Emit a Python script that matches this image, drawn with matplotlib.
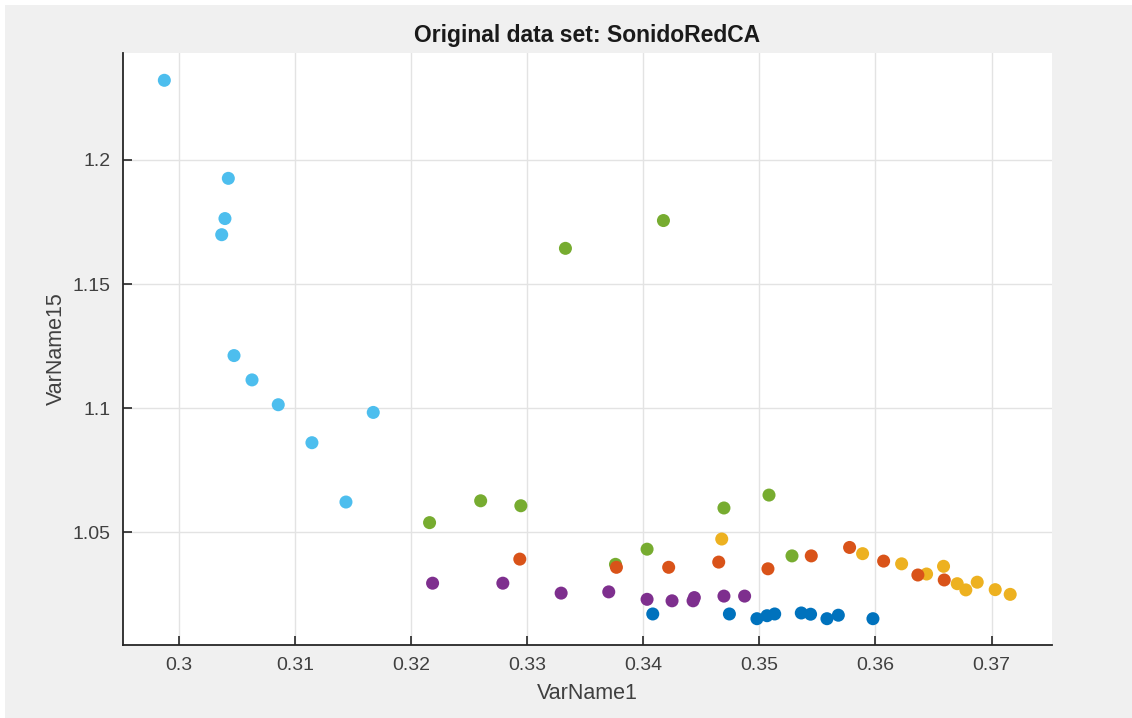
import matplotlib
matplotlib.use("Agg")
import matplotlib.pyplot as plt
from matplotlib.patches import Rectangle

plt.rcParams['font.family'] = ['Liberation Sans', 'DejaVu Sans']

# groups of the data set (MATLAB default colour order)
cyan_x = [0.29876, 0.30427, 0.30398, 0.30370, 0.30476, 0.30631, 0.30857, 0.31675, 0.31147, 0.31440]
cyan_y = [1.2321, 1.1926, 1.1764, 1.1699, 1.1212, 1.1114, 1.1014, 1.0983, 1.0861, 1.0622]

blue_x = [0.34082, 0.34742, 0.34979, 0.35066, 0.35132, 0.35361, 0.35441, 0.35582, 0.35680, 0.35978]
blue_y = [1.0171, 1.0171, 1.0152, 1.0164, 1.0171, 1.0175, 1.0170, 1.0152, 1.0166, 1.0152]

purple_x = [0.32186, 0.32791, 0.33293, 0.33703, 0.34033, 0.34248, 0.34429, 0.34440, 0.34695, 0.34873]
purple_y = [1.0295, 1.0295, 1.0255, 1.0260, 1.0230, 1.0224, 1.0224, 1.0237, 1.0243, 1.0243]

green_x = [0.32160, 0.32600, 0.32946, 0.33330, 0.33761, 0.34033, 0.34174, 0.34695, 0.35083, 0.35281]
green_y = [1.0539, 1.0627, 1.0607, 1.1644, 1.0371, 1.0432, 1.1756, 1.0598, 1.0650, 1.0405]

yellow_x = [0.34676, 0.35889, 0.36225, 0.36440, 0.36586, 0.36704, 0.36778, 0.36876, 0.37031, 0.37160]
yellow_y = [1.0473, 1.0414, 1.0373, 1.0332, 1.0363, 1.0293, 1.0268, 1.0299, 1.0269, 1.0250]

orange_x = [0.32937, 0.33769, 0.34219, 0.34650, 0.35074, 0.35447, 0.35777, 0.36070, 0.36365, 0.36592]
orange_y = [1.0392, 1.0359, 1.0359, 1.0380, 1.0353, 1.0405, 1.0439, 1.0384, 1.0328, 1.0308]

groups = [
    (cyan_x, cyan_y, '#4DBEEE'),
    (blue_x, blue_y, '#0072BD'),
    (purple_x, purple_y, '#7E2F8E'),
    (green_x, green_y, '#77AC30'),
    (yellow_x, yellow_y, '#EDB120'),
    (orange_x, orange_y, '#D95319'),
]

xticks = [0.3, 0.31, 0.32, 0.33, 0.34, 0.35, 0.36, 0.37]
xtick_labels = ['0.3', '0.31', '0.32', '0.33', '0.34', '0.35', '0.36', '0.37']
yticks = [1.05, 1.1, 1.15, 1.2]
ytick_labels = ['1.05', '1.1', '1.15', '1.2']

fig = plt.figure(figsize=(11.32, 7.18), dpi=100, facecolor='white')
# grey window background, screenshot has a thin white margin top/left
fig.patches.append(Rectangle((5 / 1132, 0), 1, 1 - 5 / 718, transform=fig.transFigure,
                             facecolor='#f0f0f0', edgecolor='none', zorder=-10))

ax = fig.add_axes([123 / 1132, 1 - 645 / 718, 929 / 1132, 592 / 718])
ax.set_facecolor('white')

for gx, gy, col in groups:
    ax.scatter(gx, gy, s=88, color=col, edgecolors='none', zorder=3)

ax.set_xlim(0.2952, 0.3752)
ax.set_ylim(1.0046, 1.2431)
ax.set_xticks(xticks)
ax.set_xticklabels(xtick_labels)
ax.set_yticks(yticks)
ax.set_yticklabels(ytick_labels)

ax.grid(True, color='#e3e3e3', linewidth=1.0, zorder=0)
ax.set_axisbelow(True)
for side in ['top', 'right']:
    ax.spines[side].set_visible(False)
for side in ['left', 'bottom']:
    ax.spines[side].set_color('#262626')
    ax.spines[side].set_linewidth(1.3)
ax.tick_params(direction='in', length=6.5, width=1.2, color='#262626',
               labelsize=14, labelcolor='#404040', pad=9)

ax.set_title('Original data set: SonidoRedCA', fontsize=16.5, fontweight='bold',
             color='#1a1a1a', pad=8)
ax.set_xlabel('VarName1', fontsize=15.5, color='#404040', labelpad=6)
ax.set_ylabel('VarName15', fontsize=15.5, color='#404040', labelpad=4)

plt.savefig('out.png', dpi=100, facecolor=fig.get_facecolor())
plt.close()
